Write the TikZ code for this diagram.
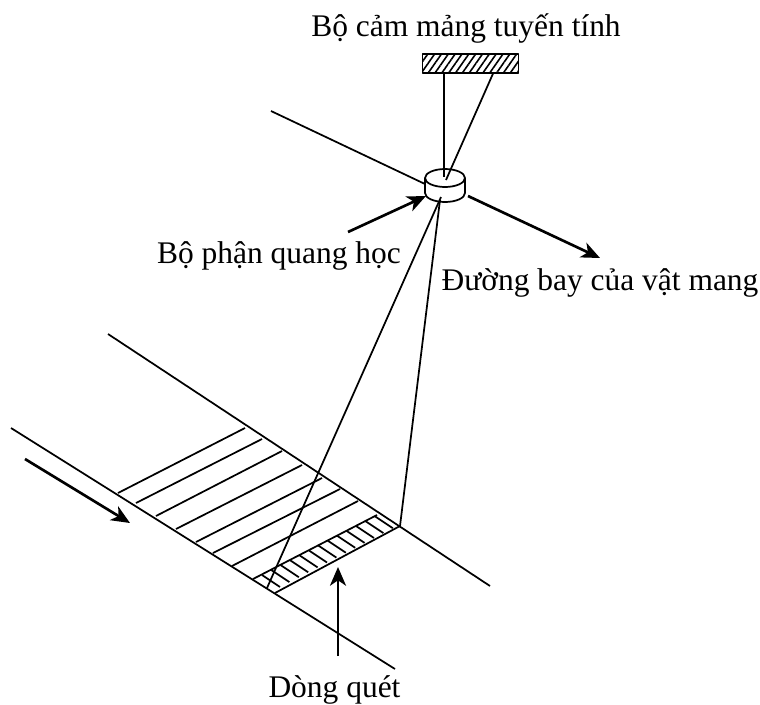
\documentclass[tikz,border=0pt]{standalone}
\usepackage{fontspec}
\setmainfont{Liberation Serif}
\usetikzlibrary{arrows.meta,calc,patterns.meta}
\tikzset{
  lbl/.style={font=\fontsize{23.6}{28}\selectfont,inner sep=0pt,anchor=base},
  edge/.style={line width=1.3pt},
  leader/.style={line width=2pt,-{Stealth[length=14pt,width=12pt,inset=4pt]}}
}
\begin{document}
\begin{tikzpicture}[x=0.75pt,y=-0.75pt,line join=round]
\useasboundingbox (0,0) rectangle (760,704);
% sensor and lens
\node[draw,line width=1.4pt,minimum width=72pt,minimum height=14pt,inner sep=0pt,
  pattern={Lines[angle=55,distance=4.2pt,line width=1.2pt]}] (sensor) at (470.5,63.5) {};
\coordinate (lensc) at (445,178);
\coordinate (flightin) at (271,111);
\coordinate (flightend) at (425,184);
\draw[edge] (425,178)--(425,193) arc[start angle=180,end angle=0,x radius=20,y radius=9]--(465,178);
\draw[edge] (lensc) ellipse[x radius=20,y radius=9];
\draw[edge] (sensor.south-|444,0)--(444,177);
\draw[edge] (sensor.south-|493,0)--(446,180);
\draw[edge] (flightin)--(flightend);
% strip
\coordinate (lowa) at (11,428);
\coordinate (lowb) at (395,669);
\coordinate (upa) at (108,334);
\coordinate (upb) at (490,586);
\draw[edge] (lowa)--(lowb);
\draw[edge] (upa)--(upb);
\foreach \xa/\ya/\xb/\yb in {118/493/245/428,136/503/262/439,156/516/282/451,176/529/302/465,196/542/322/478,213/553/340/489,232/566/358/501,253/579/377/515,275/593/400/526}
  \draw[edge] (\xa,\ya)--(\xb,\yb);
\foreach \i in {0,...,12}
  \draw[edge] ($(262,575)+\i*(9.4,-4.9)$)--++(18,12);
% rays
\draw[edge] (441,197)--(267,588);
\draw[edge] (440,200)--(400,526);
% arrows
\draw[leader] (468,196)--(600,258);
\draw[leader] (348,232)--(426,196);
\draw[leader] (25,459)--(130,523);
\draw[leader] (338,656)--(338,567);
% labels
\node[lbl] (sensorlbl) at (466,36) {Bộ cảm mảng tuyến tính};
\node[lbl] (opticlbl) at (279,263) {Bộ phận quang học};
\node[lbl] (flightlbl) at (600,290) {Đường bay của vật mang};
\node[lbl] (linelbl) at (334.5,697) {Dòng quét};
\end{tikzpicture}
\end{document}
